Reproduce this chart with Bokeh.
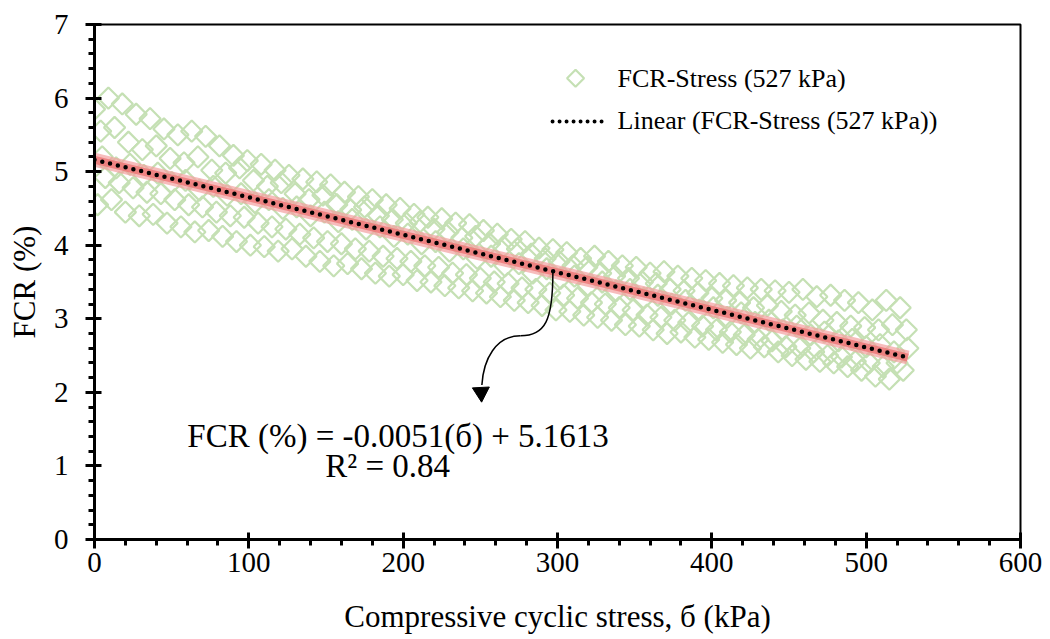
import math
from bokeh.plotting import figure
from bokeh.models import Range1d, Label, FixedTicker
from bokeh.embed import file_html
from bokeh.resources import INLINE

# ---------------- data ----------------
stress_a = [0, 9, 18, 27, 36, 45, 54, 63, 72, 81, 90, 99, 108, 117, 126, 135, 144, 153, 162, 171,
            180, 189, 198, 207, 216, 225, 234, 243, 252, 261, 270, 279, 288, 297, 306, 315, 324, 333,
            342, 351, 360, 369, 378, 387, 396, 405, 414, 423, 432, 441, 450, 459, 468, 477, 486, 495,
            504, 513, 522]
fcr_a = [5.85, 6.00, 5.92, 5.78, 5.72, 5.58, 5.50, 5.55, 5.48, 5.35, 5.22, 5.15, 5.10, 5.02, 4.95,
         4.90, 4.86, 4.82, 4.72, 4.66, 4.62, 4.55, 4.50, 4.42, 4.38, 4.36, 4.30, 4.28, 4.20, 4.15,
         4.08, 4.05, 3.96, 3.94, 3.90, 3.82, 3.85, 3.78, 3.72, 3.70, 3.62, 3.64, 3.58, 3.55, 3.52,
         3.48, 3.45, 3.42, 3.40, 3.38, 3.36, 3.40, 3.30, 3.32, 3.25, 3.22, 3.12, 3.25, 3.15]

stress_b = [4, 13, 22, 31, 40, 49, 58, 67, 76, 85, 94, 103, 112, 121, 130, 139, 148, 157, 166, 175,
            184, 193, 202, 211, 220, 229, 238, 247, 256, 265, 274, 283, 292, 301, 310, 319, 328, 337,
            346, 355, 364, 373, 382, 391, 400, 409, 418, 427, 436, 445, 454, 463, 472, 481, 490, 499,
            508, 517, 526]
fcr_b = [5.55, 5.60, 5.40, 5.30, 5.35, 5.18, 5.12, 5.20, 5.02, 4.98, 5.05, 4.88, 4.80, 4.85, 4.70,
         4.62, 4.68, 4.55, 4.48, 4.52, 4.40, 4.35, 4.30, 4.32, 4.22, 4.18, 4.10, 4.12, 4.02, 3.98,
         3.95, 3.88, 3.82, 3.78, 3.72, 3.70, 3.62, 3.58, 3.55, 3.50, 3.48, 3.40, 3.38, 3.35, 3.28,
         3.25, 3.22, 3.15, 3.18, 3.10, 3.05, 3.08, 2.98, 2.95, 2.90, 2.88, 2.85, 2.92, 2.85]

stress_c = [7, 16, 25, 34, 43, 52, 61, 70, 79, 88, 97, 106, 115, 124, 133, 142, 151, 160, 169, 178,
            187, 196, 205, 214, 223, 232, 241, 250, 259, 268, 277, 286, 295, 304, 313, 322, 331, 340,
            349, 358, 367, 376, 385, 394, 403, 412, 421, 430, 439, 448, 457, 466, 475, 484, 493, 502,
            511, 520]
fcr_c = [4.92, 4.85, 4.78, 4.72, 4.70, 4.62, 4.55, 4.52, 4.45, 4.40, 4.38, 4.30, 4.25, 4.22, 4.15,
         4.10, 4.05, 4.02, 3.95, 3.92, 3.85, 3.82, 3.78, 3.72, 3.70, 3.62, 3.60, 3.55, 3.50, 3.48,
         3.42, 3.40, 3.35, 3.32, 3.28, 3.22, 3.20, 3.15, 3.12, 3.05, 3.02, 2.98, 2.95, 2.90, 2.85,
         2.82, 2.78, 2.72, 2.70, 2.62, 2.60, 2.55, 2.50, 2.48, 2.42, 2.40, 2.35, 2.40]

stress_d = [2, 11, 20, 29, 38, 47, 56, 65, 74, 83, 92, 101, 110, 119, 128, 137, 146, 155, 164, 173,
            182, 191, 200, 209, 218, 227, 236, 245, 254, 263, 272, 281, 290, 299, 308, 317, 326, 335,
            344, 353, 362, 371, 380, 389, 398, 407, 416, 425, 434, 443, 452, 461, 470, 479, 488, 497,
            506, 515, 524]
fcr_d = [4.55, 4.62, 4.45, 4.40, 4.42, 4.30, 4.25, 4.18, 4.20, 4.12, 4.05, 4.00, 3.98, 3.92, 3.95,
         3.85, 3.78, 3.72, 3.75, 3.68, 3.62, 3.58, 3.60, 3.52, 3.50, 3.45, 3.42, 3.38, 3.35, 3.30,
         3.25, 3.22, 3.18, 3.12, 3.10, 3.05, 3.02, 2.98, 2.92, 2.90, 2.85, 2.80, 2.82, 2.75, 2.72,
         2.68, 2.65, 2.60, 2.62, 2.55, 2.50, 2.45, 2.42, 2.40, 2.35, 2.30, 2.22, 2.18, 2.30]

stress_e = [5, 14, 23, 32, 41, 50, 59, 68, 77, 86, 95, 104, 113, 122, 131, 140, 149, 158, 167, 176,
            185, 194, 203, 212, 221, 230, 239, 248, 257, 266, 275, 284, 293, 302, 311, 320, 329, 338,
            347, 356, 365, 374, 383, 392, 401, 410, 419, 428, 437, 446, 455, 464, 473, 482, 491, 500,
            509, 518, 527]
fcr_e = [5.20, 5.05, 5.10, 4.95, 4.98, 4.85, 4.88, 4.75, 4.80, 4.68, 4.70, 4.58, 4.62, 4.50, 4.52,
         4.40, 4.45, 4.32, 4.35, 4.22, 4.25, 4.12, 4.15, 4.02, 4.05, 3.92, 3.95, 3.82, 3.85, 3.72,
         3.75, 3.62, 3.68, 3.55, 3.58, 3.45, 3.50, 3.38, 3.40, 3.28, 3.32, 3.20, 3.25, 3.12, 3.15,
         3.02, 3.08, 2.95, 2.98, 2.85, 2.90, 2.78, 2.82, 2.70, 2.72, 2.62, 2.65, 2.55, 2.60]

stress_all = stress_a + stress_b + stress_c + stress_d + stress_e
fcr_all = fcr_a + fcr_b + fcr_c + fcr_d + fcr_e
n = min(len(stress_all), len(fcr_all))
stress_all, fcr_all = stress_all[:n], fcr_all[:n]

# Linear trend (from the equation shown on the chart)
slope = -0.0051
intercept = 5.1613
trend_x = [0, 527]
trend_y = [intercept + slope * v for v in trend_x]

x_ticks = [0, 100, 200, 300, 400, 500, 600]
y_ticks = [0, 1, 2, 3, 4, 5, 6, 7]

x_title = "Compressive cyclic stress, б (kPa)"
y_title = "FCR (%)"
eq_text = "FCR (%) = -0.0051(б) + 5.1613"
r2_text = "R² = 0.84"
series_label = "FCR-Stress (527 kPa)"
trend_label = "Linear (FCR-Stress (527 kPa))"

FONT = "Liberation Serif"
GREEN = "#c5e0b4"

# ---------------- figure ----------------
p = figure(width=1050, height=639, output_backend="svg", toolbar_location=None,
           x_range=Range1d(0, 600), y_range=Range1d(0, 7),
           min_border_left=94, min_border_right=30, min_border_top=24, min_border_bottom=100)
p.grid.visible = False
p.outline_line_color = "black"
p.outline_line_width = 2
p.background_fill_color = "white"
p.border_fill_color = "white"

for ax in (p.xaxis[0], p.yaxis[0]):
    ax.axis_line_width = 3
    ax.axis_line_color = "black"
    ax.major_tick_line_width = 3
    ax.minor_tick_line_width = 3
    ax.major_tick_in = 7
    ax.major_tick_out = 9
    ax.minor_tick_in = 0
    ax.minor_tick_out = 6
    ax.major_label_text_font = FONT
    ax.major_label_text_font_size = "29px"
    ax.major_label_text_color = "black"
    ax.axis_label_text_font = FONT
    ax.axis_label_text_font_size = "31px"
    ax.axis_label_text_font_style = "normal"
    ax.axis_label_text_color = "black"

minor_x = [v for v in range(0, 601, 20) if v % 100 != 0]
minor_y = [i / 5 for i in range(0, 36) if i % 5 != 0]
p.xaxis[0].ticker = FixedTicker(ticks=x_ticks, minor_ticks=minor_x)
p.yaxis[0].ticker = FixedTicker(ticks=y_ticks, minor_ticks=minor_y)
p.xaxis[0].axis_label = x_title
p.yaxis[0].axis_label = y_title
p.xaxis[0].major_label_standoff = 4
p.yaxis[0].major_label_standoff = 17
p.xaxis[0].axis_label_standoff = 24
p.yaxis[0].axis_label_standoff = 9

# scatter
p.scatter(stress_all, fcr_all, marker="square", angle=math.pi / 4, size=15,
          fill_color=None, line_color=GREEN, line_width=2.2)

# trend glow + dotted line
p.line(trend_x, trend_y, line_color="#f4a0a0", line_width=14, line_alpha=0.7)
p.line(trend_x, trend_y, line_color="#ec7070", line_width=8, line_alpha=0.75)
p.line(trend_x, trend_y, line_color="black", line_width=4.5, line_dash="0 8", line_cap="round")

# annotation curve with arrow
ax0 = 297
ay0 = intercept + slope * ax0
p.bezier(x0=[ax0], y0=[ay0 - 0.02], x1=[276], y1=[2.77],
         cx0=[297], cy0=[2.98], cx1=[292], cy1=[2.77], line_color="black", line_width=1.5)
p.bezier(x0=[276], y0=[2.77], x1=[251], y1=[2.10],
         cx0=[260], cy0=[2.77], cx1=[252], cy1=[2.45], line_color="black", line_width=1.5)
p.scatter([250.5], [2.0], marker="triangle", angle=math.pi + 0.05, size=17,
          fill_color="black", line_color="black")

p.add_layout(Label(x=196.7, y=1.41, text=eq_text, text_font=FONT, text_font_size="33px",
                   text_align="center", text_baseline="alphabetic", text_color="black"))
p.add_layout(Label(x=190, y=1.0, text=r2_text, text_font=FONT, text_font_size="33px",
                   text_align="center", text_baseline="alphabetic", text_color="black"))

# legend (drawn manually so the marker keeps its diamond orientation)
leg_x_marker = 311.7
leg_line_x = [296.8, 332.4]
leg_text_x = 338.9
leg_row1_y = 6.27
leg_row2_y = 5.68
p.scatter([leg_x_marker], [leg_row1_y], marker="square", angle=math.pi / 4, size=12,
          fill_color=None, line_color=GREEN, line_width=2.2)
p.line(leg_line_x, [leg_row2_y, leg_row2_y], line_color="black", line_width=4,
       line_dash="0 7", line_cap="round")
p.add_layout(Label(x=leg_text_x, y=6.26, text=series_label, text_font=FONT,
                   text_font_size="26px", text_baseline="alphabetic", text_color="black"))
p.add_layout(Label(x=leg_text_x, y=5.69, text=trend_label, text_font=FONT,
                   text_font_size="26px", text_baseline="alphabetic", text_color="black"))

open("out.html", "w").write(file_html(p, INLINE))
